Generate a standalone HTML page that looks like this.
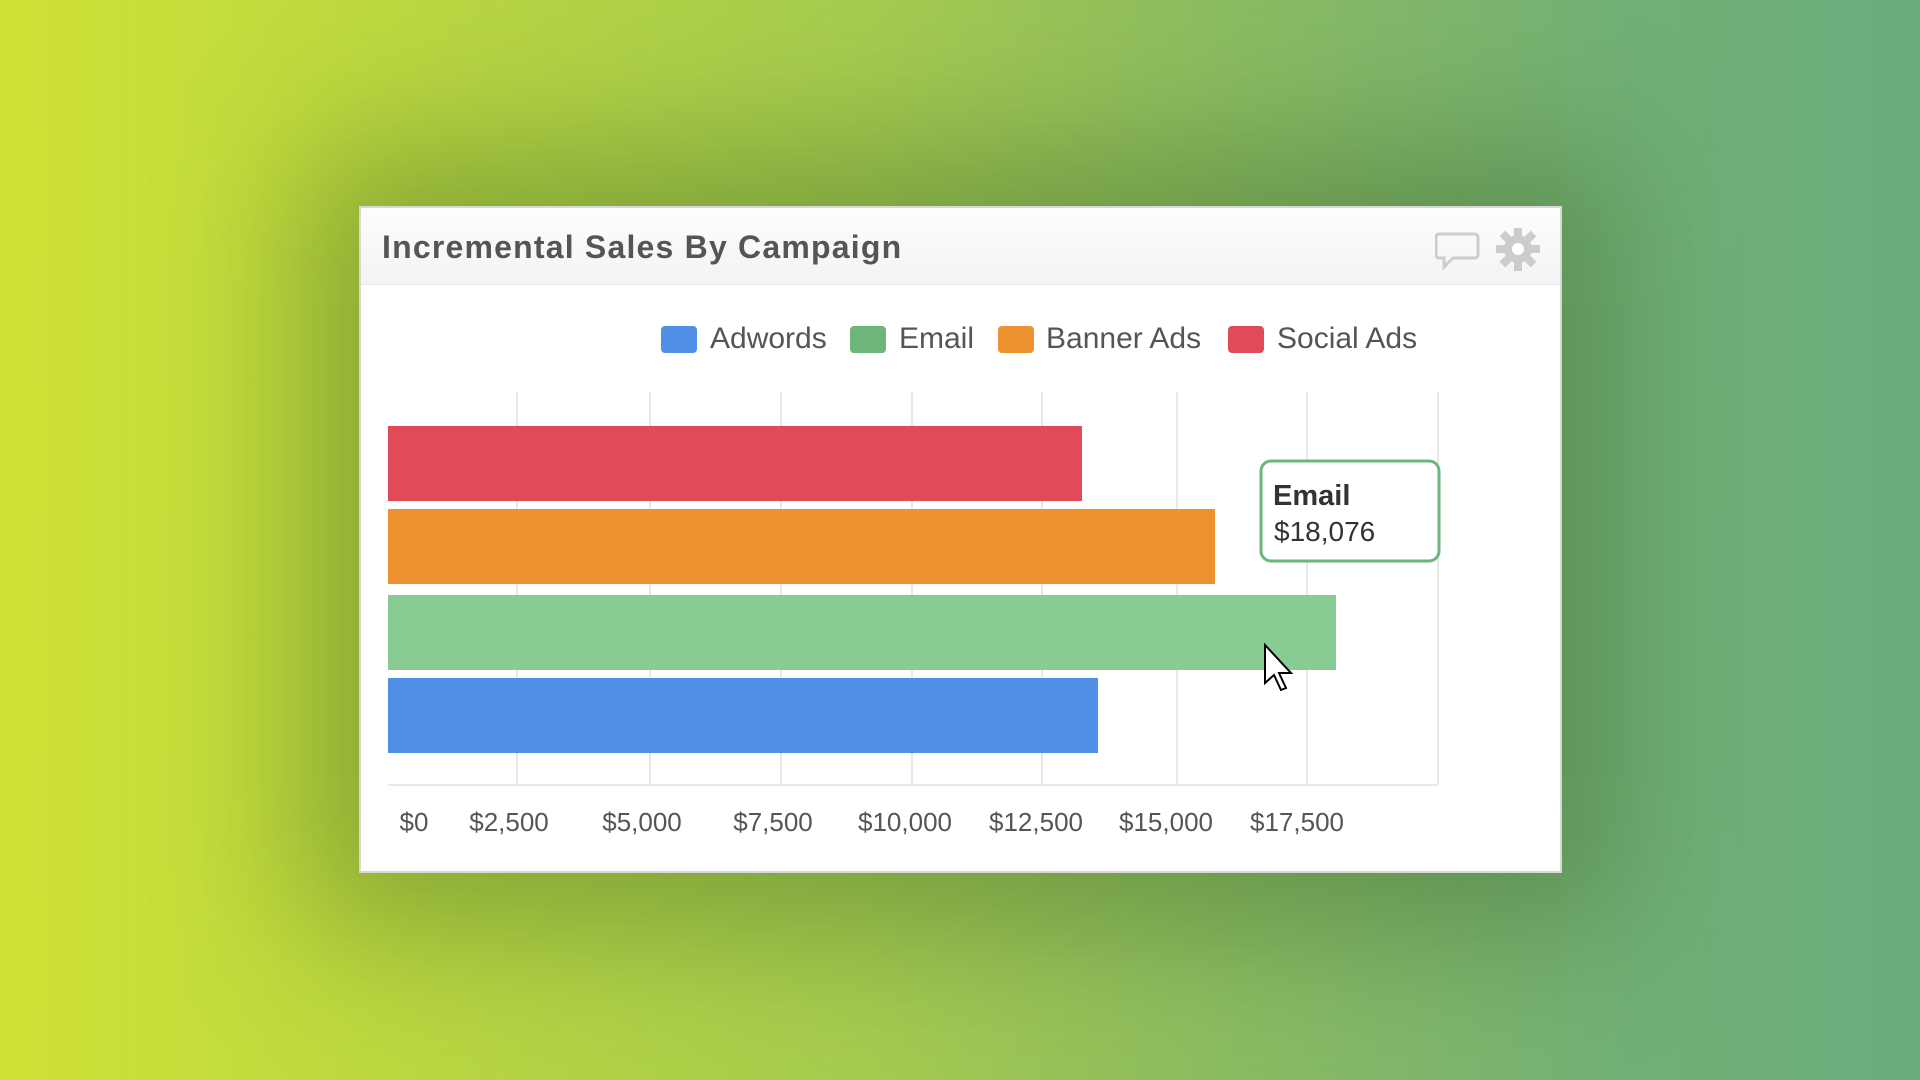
<!DOCTYPE html>
<html><head><meta charset="utf-8"><style>
html,body{margin:0;padding:0;width:1920px;height:1080px;overflow:hidden;font-family:"Liberation Sans",sans-serif;}
body{background:linear-gradient(90deg,#cfe236 0%,#bcd840 20%,#a6cb4f 45%,#8abb62 65%,#72b076 85%,#6aae7e 100%);position:relative;}
.shade{position:absolute;left:300px;top:150px;width:1320px;height:780px;background:rgba(40,80,30,0.35);filter:blur(70px);border-radius:40px;}
.card{position:absolute;left:359px;top:206px;width:1203px;height:667px;background:#fff;border:2px solid #d8d8d8;box-sizing:border-box;}
.hdr{position:absolute;left:0;top:0;right:0;height:76px;background:linear-gradient(#fdfdfd,#f3f3f3);border-bottom:1px solid #e6e6e6;}
.title{position:absolute;left:21px;top:21px;font-size:32px;font-weight:bold;color:#555;letter-spacing:1.2px;}
.t{position:absolute;font-size:30px;color:#555;}
.sq{position:absolute;width:36px;height:27px;border-radius:4px;}
</style></head><body>
<div class="shade"></div>
<div class="card">
<div class="hdr"><div class="title">Incremental Sales By Campaign</div>
<svg style="position:absolute;left:1074px;top:20px" width="130" height="44">
<path d="M4 6 h36 a3 3 0 0 1 3 3 v18 a3 3 0 0 1 -3 3 h-22 l-9 9 v-9 h-5 a3 3 0 0 1 -3 -3 v-18 a3 3 0 0 1 3 -3z" fill="none" stroke="#ccc" stroke-width="3"/>
<g transform="translate(83,21)" fill="#ccc"><circle r="14"/><g>
<rect x="-4" y="-22" width="8" height="44"/><rect x="-22" y="-4" width="44" height="8"/>
<rect x="-4" y="-22" width="8" height="44" transform="rotate(45)"/><rect x="-4" y="-22" width="8" height="44" transform="rotate(-45)"/></g>
<circle r="6" fill="#fff"/></g></svg>
</div>
</div>
<!-- legend -->
<div class="sq" style="left:661px;top:326px;background:#4f8fe6"></div><div class="t" style="left:710px;top:322px">Adwords</div>
<div class="sq" style="left:850px;top:326px;background:#6db57a"></div><div class="t" style="left:899px;top:322px">Email</div>
<div class="sq" style="left:998px;top:326px;background:#ec922e"></div><div class="t" style="left:1046px;top:322px">Banner Ads</div>
<div class="sq" style="left:1228px;top:326px;background:#e14b58"></div><div class="t" style="left:1277px;top:322px">Social Ads</div>
<svg style="position:absolute;left:0;top:0" width="1920" height="1080">
<g stroke="#e8e8e8" stroke-width="2">
<line x1="517" y1="392" x2="517" y2="785"/><line x1="650" y1="392" x2="650" y2="785"/><line x1="781" y1="392" x2="781" y2="785"/><line x1="912" y1="392" x2="912" y2="785"/><line x1="1042" y1="392" x2="1042" y2="785"/><line x1="1177" y1="392" x2="1177" y2="785"/><line x1="1307" y1="392" x2="1307" y2="785"/><line x1="1438" y1="392" x2="1438" y2="785"/>
<line x1="388" y1="785" x2="1438" y2="785"/></g>
<rect x="388" y="426" width="694" height="75" fill="#e14b58"/>
<rect x="388" y="509" width="827" height="75" fill="#ec922e"/>
<rect x="388" y="595" width="948" height="75" fill="#88cc94"/>
<rect x="388" y="678" width="710" height="75" fill="#4f8fe6"/>
<g font-family="Liberation Sans" font-size="26" fill="#555" text-anchor="middle">
<text x="414" y="831">$0</text><text x="509" y="831">$2,500</text><text x="642" y="831">$5,000</text><text x="773" y="831">$7,500</text><text x="905" y="831">$10,000</text><text x="1036" y="831">$12,500</text><text x="1166" y="831">$15,000</text><text x="1297" y="831">$17,500</text></g>
<rect x="1261" y="461" width="178" height="100" rx="10" fill="#fff" stroke="#6db57a" stroke-width="3"/>
<text x="1273" y="505" font-family="Liberation Sans" font-size="29" font-weight="bold" fill="#333">Email</text>
<text x="1274" y="541" font-family="Liberation Sans" font-size="28" fill="#333">$18,076</text>
<path d="M1265 645 v38 l9 -8 l7 15 l5 -2 l-7 -15 h12 z" fill="#fff" stroke="#000" stroke-width="2"/>
</svg>
</body></html>
